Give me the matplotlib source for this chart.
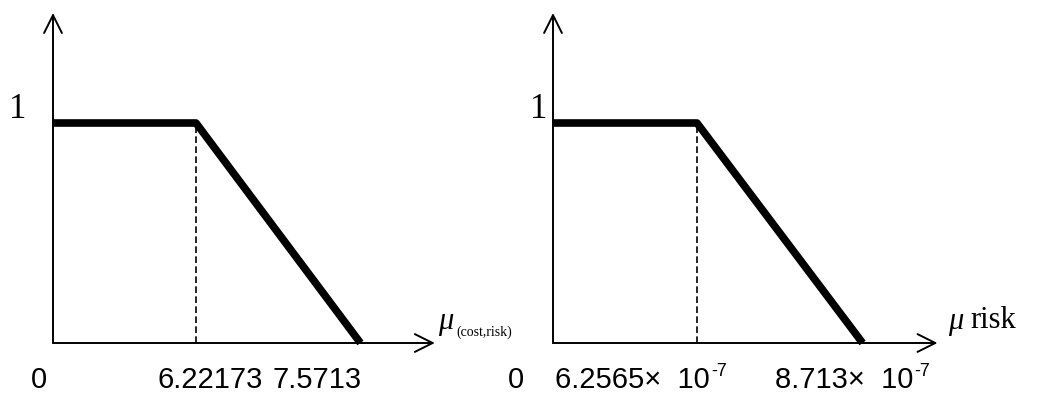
import matplotlib
matplotlib.use("Agg")
import matplotlib.pyplot as plt

# membership function knots (schematic positions on the axis) and values
knot_pos = [0, 1, 2.15]
membership = [1, 1, 0]

left_ticks = ["0", "6.22173", "7.5713"]
right_ticks = ["0", "6.2565×  10", "8.713×  10"]
right_exps = ["", "-7", "-7"]
left_tick_x = [-0.1, 1.1, 1.85]
right_tick_x = [-0.26, 0.55, 2.02]

SANS = "Liberation Sans"
SERIF = "Liberation Serif"

fig = plt.figure(figsize=(10.37, 4), dpi=100)


def draw_panel(ax, ticks, tick_x, one_x, exps=None):
    ax.set_xlim(0, 2.8)
    ax.set_ylim(0, 1.55)
    ax.axis("off")
    arrow = dict(arrowstyle="->", lw=1.4, color="black", mutation_scale=32, shrinkA=0, shrinkB=0)
    ax.annotate("", xy=(2.67, 0), xytext=(0, 0), arrowprops=arrow, annotation_clip=False)
    ax.annotate("", xy=(0, 1.5), xytext=(0, 0), arrowprops=arrow, annotation_clip=False)
    # thick membership line
    ax.plot(knot_pos, membership, color="black", lw=5.5, solid_capstyle="butt", clip_on=False)
    # dashed guide at the breakpoint
    ax.plot([knot_pos[1], knot_pos[1]], [0, membership[1]], color="black", lw=1.2,
            linestyle=(0, (4, 2)), clip_on=False)
    ax.text(one_x, 1.06, "1", fontsize=25, family=SERIF, ha="center", va="center")
    exps = exps or [""] * len(ticks)
    for lab, x, e in zip(ticks, tick_x, exps):
        t = ax.text(x, -0.17, lab, fontsize=21, family=SANS, ha="center", va="center", clip_on=False)
        if e:
            ax.annotate(e, xy=(1, 1), xycoords=t, xytext=(1, -4), textcoords="offset points",
                        fontsize=13, family=SANS, ha="left", va="center")


ax1 = fig.add_axes([53 / 1037, 57 / 400, 2.8 * 143 / 1037, 1.55 * 220 / 400])
draw_panel(ax1, left_ticks, left_tick_x, -0.245)
ax1.text(2.69, 0.1, "μ", fontsize=22, family=SERIF, style="italic", ha="left", va="center")
ax1.text(2.82, 0.05, "(cost,risk)", fontsize=10, family=SERIF, ha="left", va="center")

ax2 = fig.add_axes([553 / 1037, 57 / 400, 2.8 * 144 / 1037, 1.55 * 220 / 400])
draw_panel(ax2, right_ticks, right_tick_x, -0.1, right_exps)
ax2.text(2.74, 0.1, "μ", fontsize=22, family=SERIF, style="italic", ha="left", va="center")
ax2.text(2.9, 0.1, "risk", fontsize=22, family=SERIF, ha="left", va="center")

fig.savefig("out.png", dpi=100)
